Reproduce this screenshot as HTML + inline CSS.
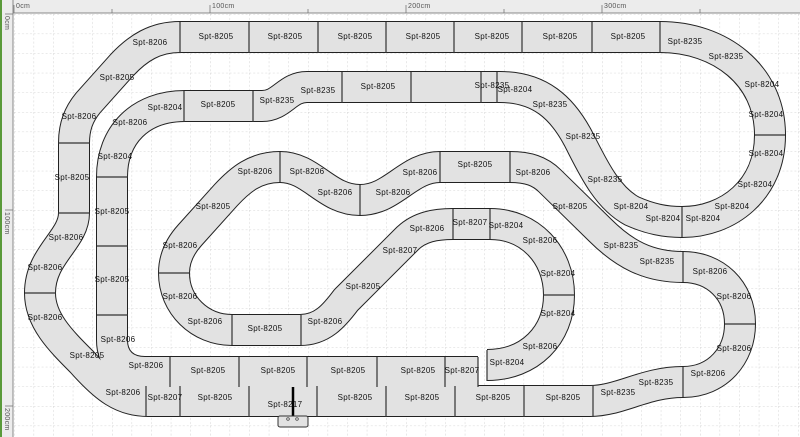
<!DOCTYPE html>
<html><head><style>
html,body{margin:0;padding:0;background:#fff;}
svg{display:block;font-family:"Liberation Sans",sans-serif;}
text{font-size:8px;fill:#111;text-anchor:middle;dominant-baseline:middle;letter-spacing:0.3px;}
</style></head><body>
<svg width="800" height="437" viewBox="0 0 800 437" xmlns="http://www.w3.org/2000/svg">
<defs>
<pattern id="g" x="14" y="14" width="19.6" height="19.6" patternUnits="userSpaceOnUse">
<path d="M0 0H19.6M0 0V19.6" stroke="#c8c8c8" stroke-width="0.8" stroke-dasharray="2,2" fill="none"/>
</pattern>
<path id="t" fill="none" d="M478,372 L145,372 C125,372 112,360 112,340 L112,177 C112,135 140,106 185,106 L262,106 C282,106 287,87 307,87 L500,87 C540,87 562,108 578,138 C592,165 606,197 632,211 C650,219 665,222 682,222 C728,222 770,190 770,135 C770,75 720,37 660,37 L180,37 C155,37 138,48 122,65 L88,103 C79,114 74,126 74,143 L74,213 C74,240 40,255 40,293 C40,320 60,340 82,362 C105,388 122,401 148,401 L590,401 C620,401 645,382 683,382 C718,382 740,355 740,324 C740,290 715,267 683,267 C648,267 624,254 600,230 L550,181 C540,171 528,167 510,167 L440,167 C408,167 393,200 360,200 C326,200 312,167 280,167 C255,167 240,180 226,195 L190,235 C180,246 174,258 174,273 C174,305 200,330 232,330 L300,330 C322,330 334,316 346,300 L408,238 C420,227 435,224 453,224 L490,224 C530,224 559,255 559,295 C559,335 530,365 487,365"/>
</defs>
<rect width="800" height="437" fill="#fff"/>
<rect x="14" y="14" width="786" height="423" fill="url(#g)"/>
<rect x="0" y="0" width="800" height="13" fill="#ececec"/>
<line x1="0" y1="13" x2="800" y2="13" stroke="#888"/>
<rect x="0" y="0" width="13" height="437" fill="#ececec"/>
<line x1="13" y1="0" x2="13" y2="437" stroke="#888"/>
<rect x="0" y="0" width="2" height="437" fill="#5a9a3a"/>
<g stroke="#777" stroke-width="0.8">
<line x1="14" y1="5" x2="14" y2="13"/><line x1="210" y1="5" x2="210" y2="13"/><line x1="406" y1="5" x2="406" y2="13"/><line x1="602" y1="5" x2="602" y2="13"/>
<line x1="112" y1="9" x2="112" y2="13"/><line x1="308" y1="9" x2="308" y2="13"/><line x1="504" y1="9" x2="504" y2="13"/><line x1="700" y1="9" x2="700" y2="13"/>
<line x1="5" y1="14" x2="13" y2="14"/><line x1="5" y1="210" x2="13" y2="210"/><line x1="5" y1="406" x2="13" y2="406"/>
</g>
<text x="16" y="6" style="text-anchor:start;fill:#555;font-size:7px">0cm</text>
<text x="212" y="6" style="text-anchor:start;fill:#555;font-size:7px">100cm</text>
<text x="408" y="6" style="text-anchor:start;fill:#555;font-size:7px">200cm</text>
<text x="604" y="6" style="text-anchor:start;fill:#555;font-size:7px">300cm</text>
<text transform="translate(7,16) rotate(90)" style="text-anchor:start;fill:#555;font-size:7px">0cm</text>
<text transform="translate(7,212) rotate(90)" style="text-anchor:start;fill:#555;font-size:7px">100cm</text>
<text transform="translate(7,408) rotate(90)" style="text-anchor:start;fill:#555;font-size:7px">200cm</text>
<use href="#t" stroke="#222" stroke-width="32" stroke-linejoin="round"/>
<use href="#t" stroke="#e2e2e2" stroke-width="30" stroke-linejoin="round"/>
<g stroke="#333" stroke-width="1.2">
<line x1="180" y1="22" x2="180" y2="53"/><line x1="249" y1="22" x2="249" y2="53"/><line x1="318" y1="22" x2="318" y2="53"/><line x1="386" y1="22" x2="386" y2="53"/><line x1="454" y1="22" x2="454" y2="53"/><line x1="522" y1="22" x2="522" y2="53"/><line x1="592" y1="22" x2="592" y2="53"/><line x1="660" y1="22" x2="660" y2="53"/>
<line x1="184" y1="91" x2="184" y2="122"/><line x1="253" y1="91" x2="253" y2="122"/><line x1="342" y1="72" x2="342" y2="103"/><line x1="411" y1="72" x2="411" y2="103"/><line x1="481" y1="72" x2="481" y2="103"/><line x1="497" y1="72" x2="497" y2="103"/>
<line x1="97" y1="177" x2="128" y2="177"/><line x1="97" y1="246" x2="128" y2="246"/><line x1="97" y1="315" x2="128" y2="315"/>
<line x1="58" y1="143" x2="90" y2="143"/><line x1="58" y1="213" x2="90" y2="213"/><line x1="25" y1="293" x2="56" y2="293"/>
<line x1="170" y1="357" x2="170" y2="387"/><line x1="239" y1="357" x2="239" y2="387"/><line x1="307" y1="357" x2="307" y2="387"/><line x1="377" y1="357" x2="377" y2="387"/><line x1="445" y1="357" x2="445" y2="387"/><line x1="478" y1="357" x2="478" y2="387"/>
<line x1="146" y1="386" x2="146" y2="417"/><line x1="180" y1="386" x2="180" y2="417"/><line x1="249" y1="386" x2="249" y2="417"/><line x1="317" y1="386" x2="317" y2="417"/><line x1="386" y1="386" x2="386" y2="417"/><line x1="455" y1="386" x2="455" y2="417"/><line x1="524" y1="386" x2="524" y2="417"/><line x1="593" y1="386" x2="593" y2="417"/>
<line x1="683" y1="367" x2="683" y2="397"/><line x1="725" y1="324" x2="755" y2="324"/><line x1="683" y1="252" x2="683" y2="282"/>
<line x1="755" y1="135" x2="785" y2="135"/><line x1="682" y1="207" x2="682" y2="237"/>
<line x1="440" y1="152" x2="440" y2="182"/><line x1="510" y1="152" x2="510" y2="182"/><line x1="280" y1="152" x2="280" y2="182"/><line x1="360" y1="185" x2="360" y2="215"/>
<line x1="158" y1="273" x2="190" y2="273"/><line x1="232" y1="315" x2="232" y2="345"/><line x1="301" y1="315" x2="301" y2="345"/>
<line x1="453" y1="209" x2="453" y2="239"/><line x1="490" y1="209" x2="490" y2="239"/><line x1="543" y1="295" x2="575" y2="295"/><line x1="487" y1="350" x2="487" y2="381"/>
</g>
<line x1="293" y1="387" x2="293" y2="416" stroke="#000" stroke-width="2.5"/>
<rect x="278" y="416" width="30" height="11" rx="2" fill="#e2e2e2" stroke="#333"/>
<circle cx="288" cy="419" r="1.3" fill="none" stroke="#333" stroke-width="0.7"/><circle cx="297" cy="419" r="1.3" fill="none" stroke="#333" stroke-width="0.7"/>
<g>
<text x="150" y="43">Spt-8206</text><text x="216" y="37">Spt-8205</text><text x="285" y="37">Spt-8205</text><text x="355" y="37">Spt-8205</text><text x="423" y="37">Spt-8205</text><text x="492" y="37">Spt-8205</text><text x="560" y="37">Spt-8205</text><text x="628" y="37">Spt-8205</text>
<text x="685" y="42">Spt-8235</text><text x="726" y="57">Spt-8235</text><text x="762" y="85">Spt-8204</text><text x="766" y="115">Spt-8204</text><text x="766" y="154">Spt-8204</text><text x="755" y="185">Spt-8204</text><text x="732" y="207">Spt-8204</text><text x="703" y="219">Spt-8204</text><text x="663" y="219">Spt-8204</text><text x="631" y="207">Spt-8204</text>
<text x="605" y="180">Spt-8235</text><text x="583" y="137">Spt-8235</text><text x="550" y="105">Spt-8235</text><text x="515" y="90">Spt-8204</text><text x="492" y="86">Spt-8235</text><text x="378" y="87">Spt-8205</text><text x="318" y="91">Spt-8235</text><text x="277" y="101">Spt-8235</text><text x="218" y="105">Spt-8205</text><text x="165" y="108">Spt-8204</text><text x="130" y="123">Spt-8206</text><text x="115" y="157">Spt-8204</text><text x="112" y="212">Spt-8205</text><text x="112" y="280">Spt-8205</text><text x="118" y="340">Spt-8206</text><text x="146" y="366">Spt-8206</text>
<text x="208" y="371">Spt-8205</text><text x="278" y="371">Spt-8205</text><text x="348" y="371">Spt-8205</text><text x="418" y="371">Spt-8205</text><text x="462" y="371">Spt-8207</text>
<text x="117" y="78">Spt-8205</text><text x="79" y="117">Spt-8206</text><text x="72" y="178">Spt-8205</text><text x="66" y="238">Spt-8206</text><text x="45" y="268">Spt-8206</text><text x="45" y="318">Spt-8206</text><text x="87" y="356">Spt-8205</text><text x="123" y="393">Spt-8206</text>
<text x="165" y="398">Spt-8207</text><text x="215" y="398">Spt-8205</text><text x="285" y="405">Spt-8217</text><text x="355" y="398">Spt-8205</text><text x="422" y="398">Spt-8205</text><text x="493" y="398">Spt-8205</text><text x="563" y="398">Spt-8205</text><text x="618" y="393">Spt-8235</text><text x="656" y="383">Spt-8235</text>
<text x="708" y="374">Spt-8206</text><text x="734" y="349">Spt-8206</text><text x="734" y="297">Spt-8206</text><text x="710" y="272">Spt-8206</text><text x="657" y="262">Spt-8235</text><text x="621" y="246">Spt-8235</text><text x="570" y="207">Spt-8205</text><text x="533" y="173">Spt-8206</text>
<text x="475" y="165">Spt-8205</text><text x="420" y="173">Spt-8206</text><text x="393" y="193">Spt-8206</text><text x="335" y="193">Spt-8206</text><text x="307" y="172">Spt-8206</text><text x="255" y="172">Spt-8206</text><text x="213" y="207">Spt-8205</text><text x="180" y="246">Spt-8206</text><text x="180" y="297">Spt-8206</text><text x="205" y="322">Spt-8206</text><text x="265" y="329">Spt-8205</text><text x="325" y="322">Spt-8206</text><text x="363" y="287">Spt-8205</text><text x="400" y="251">Spt-8207</text><text x="427" y="229">Spt-8206</text><text x="470" y="223">Spt-8207</text><text x="506" y="226">Spt-8204</text><text x="540" y="241">Spt-8206</text><text x="558" y="274">Spt-8204</text><text x="558" y="314">Spt-8204</text><text x="540" y="347">Spt-8206</text><text x="507" y="363">Spt-8204</text>
</g>
</svg>
</body></html>
